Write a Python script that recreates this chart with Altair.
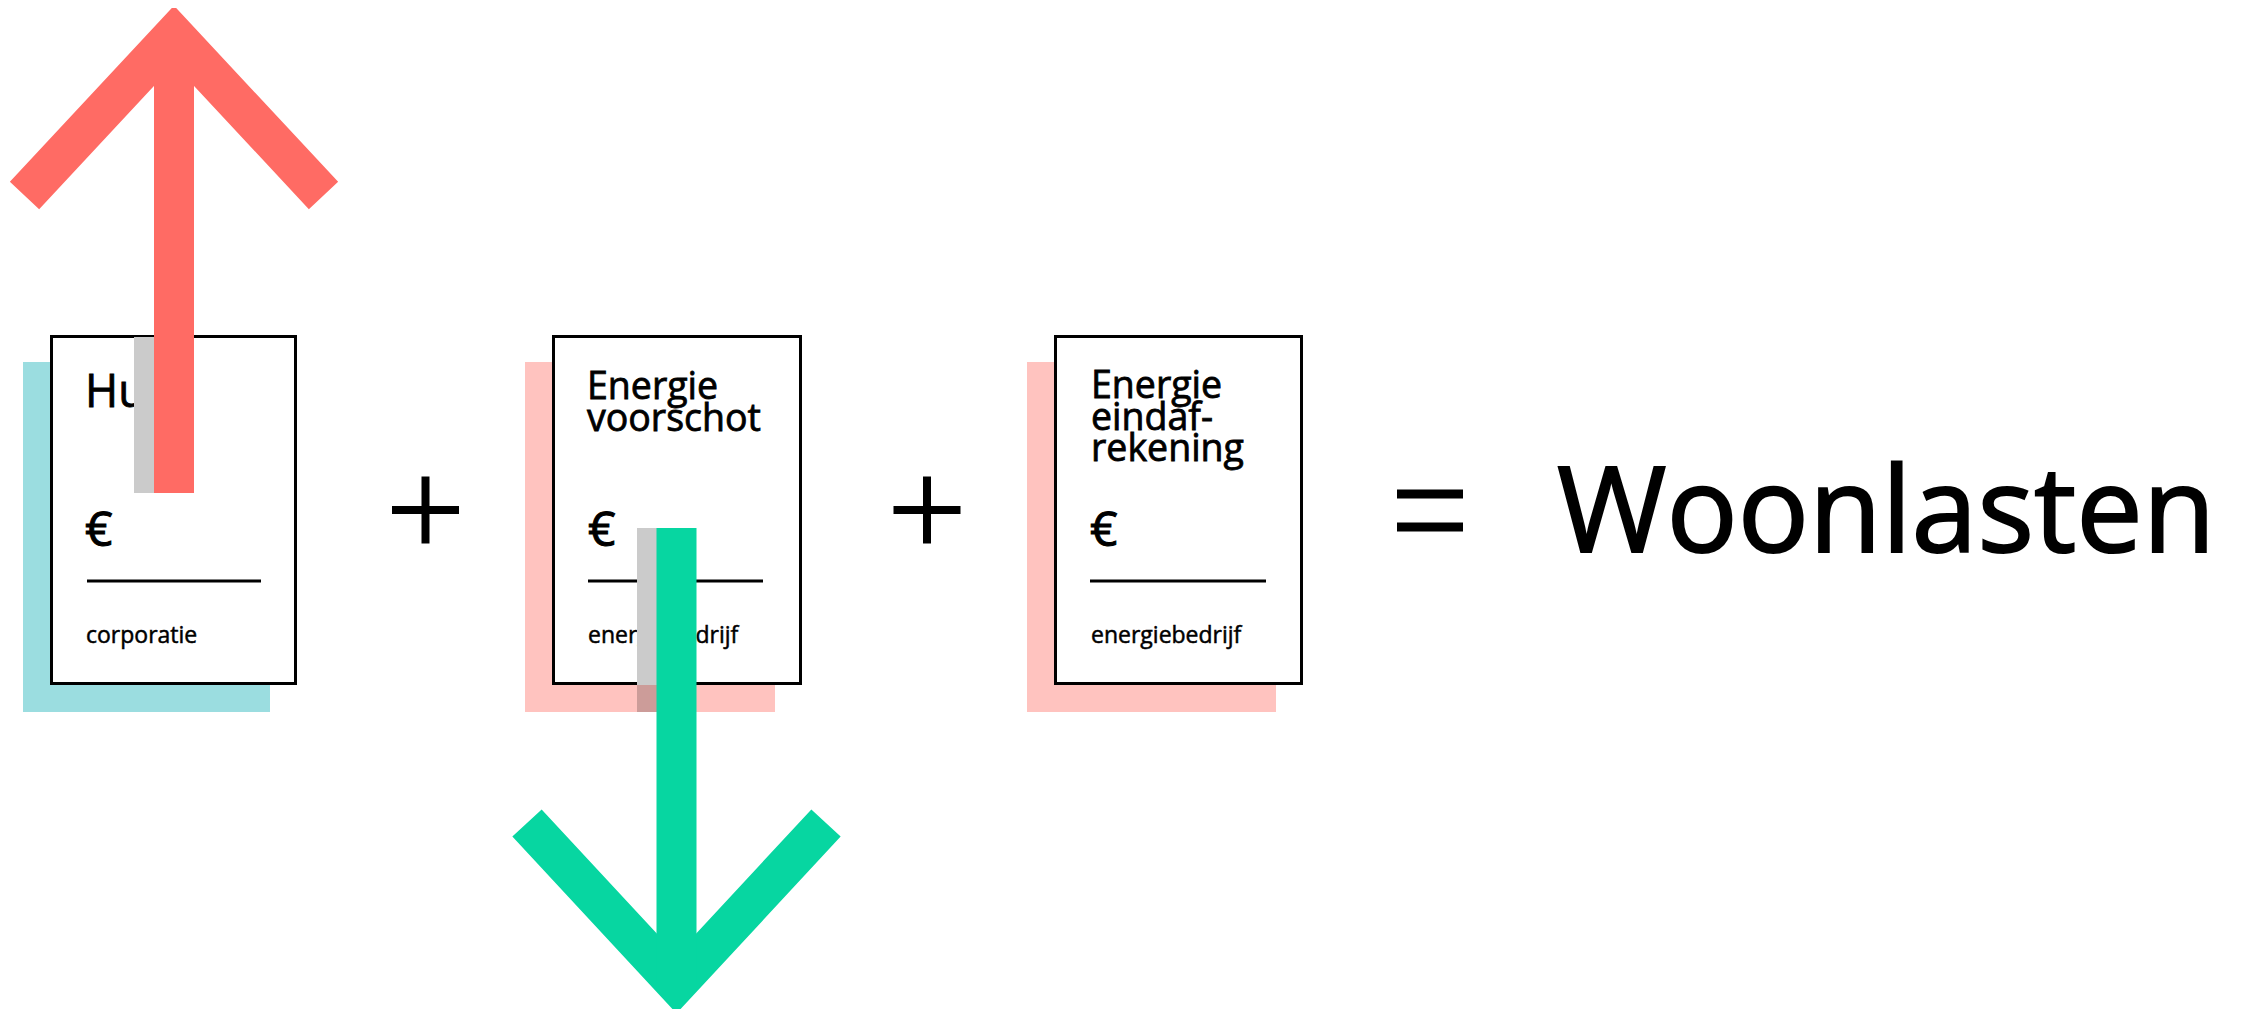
import altair as alt
import pandas as pd

# ---------------- data (reference pixel coordinates) ----------------
card_names = ["Huur", "Energie voorschot", "Energie eindafrekening"]
card_left = [50, 552, 1054]
card_right = [297, 802, 1303]
card_top = [335, 335, 335]
card_bottom = [685, 685, 685]
shadow_colors = ["#9BDDE0", "#FFC3BF", "#FFC3BF"]
shadow_dx = [-27, -27, -27]
shadow_dy = [27, 27, 27]

title_texts = ["Huur", "Energie\nvoorschot", "Energie\neindaf-\nrekening"]
title_baseline = [407, 399, 398]
title_size = [45, 37.5, 37.5]
title_x = [85, 587, 1091]
euro_x = [85, 588, 1090]
euro_y = [546, 546, 546]
issuer_labels = ["corporatie", "energiebedrijf", "energiebedrijf"]
issuer_x = [86, 588, 1091]
issuer_y = [643, 643, 643]
rule_x1 = [87, 588, 1090]
rule_x2 = [261, 763, 1266]
rule_y = [581, 581, 581]

# arrows: chevron points and shaft
arrow_names = ["up", "down"]
arrow_colors = ["#FF6B64", "#07D6A1"]
chev_x = [[24.5, 174, 323.5], [527, 676.5, 826]]
chev_y = [[195.5, 35, 195.5], [823, 984, 823]]
shaft_x = [174, 676.5]
shaft_y1 = [35, 528]
shaft_y2 = [493, 984]
# shadow strips of the shafts
strip_x1 = [134, 637, 637]
strip_x2 = [154, 657, 657]
strip_y1 = [337, 528, 685]
strip_y2 = [493, 685, 712]
strip_color = ["#CBCBCB", "#CBCBCB", "#CC9C99"]

# operators
plus_cx = [425.5, 927]
plus_cy = [510, 510]
plus_half = 33.5
eq_x1, eq_x2 = 1397, 1463
eq_y = [494, 527]
result_text = "Woonlasten"
result_x, result_y = 1557, 552

# ---------------- build tables ----------------
shadows = pd.DataFrame({
    "x": [l + d for l, d in zip(card_left, shadow_dx)],
    "x2": [r + d for r, d in zip(card_right, shadow_dx)],
    "y": [t + d for t, d in zip(card_top, shadow_dy)],
    "y2": [b + d for b, d in zip(card_bottom, shadow_dy)],
    "c": shadow_colors,
})
cards = pd.DataFrame({"x": [v + 1.5 for v in card_left], "x2": [v - 1.5 for v in card_right],
                      "y": [v + 1.5 for v in card_top], "y2": [v - 1.5 for v in card_bottom],
                      "name": card_names})
titles = pd.DataFrame({"x": title_x, "y": title_baseline, "t": title_texts, "s": title_size})
euros = pd.DataFrame({"x": euro_x, "y": euro_y, "t": ["€"] * 3})
issuers = pd.DataFrame({"x": issuer_x, "y": issuer_y, "t": issuer_labels})
rules = pd.DataFrame({"x": rule_x1, "x2": rule_x2, "y": rule_y})
strips = pd.DataFrame({"x": strip_x1, "x2": strip_x2, "y": strip_y1, "y2": strip_y2, "c": strip_color})

arrow_rows = []
for a, (name, col) in enumerate(zip(arrow_names, arrow_colors)):
    for k, (xx, yy) in enumerate(zip(chev_x[a], chev_y[a])):
        arrow_rows.append({"part": name + "-head", "x": xx, "y": yy, "o": k, "c": col})
    arrow_rows.append({"part": name + "-shaft", "x": shaft_x[a], "y": shaft_y1[a], "o": 0, "c": col})
    arrow_rows.append({"part": name + "-shaft", "x": shaft_x[a], "y": shaft_y2[a], "o": 1, "c": col})
arrows = pd.DataFrame(arrow_rows)

op_h = pd.DataFrame({"x": [c - plus_half for c in plus_cx] + [eq_x1] * 2,
                     "x2": [c + plus_half for c in plus_cx] + [eq_x2] * 2,
                     "y": plus_cy + eq_y,
                     "w": [8, 8, 9, 9]})
op_v = pd.DataFrame({"x": plus_cx, "y": [c - plus_half for c in plus_cy],
                     "y2": [c + plus_half for c in plus_cy]})
result = pd.DataFrame({"x": [result_x], "y": [result_y], "t": [result_text]})

# ---------------- scales ----------------
W, H = 2230, 1001
xs = alt.Scale(domain=[8, 8 + W], nice=False, zero=False)
ys = alt.Scale(domain=[8, 8 + H], reverse=True, nice=False, zero=False)
X = lambda f="x": alt.X(f"{f}:Q", scale=xs, axis=None)
Y = lambda f="y": alt.Y(f"{f}:Q", scale=ys, axis=None)
FONT = "Open Sans"

l_shadow = alt.Chart(shadows).mark_rect().encode(
    x=X(), x2="x2", y=Y(), y2="y2", color=alt.Color("c:N", scale=None))
l_cards = alt.Chart(cards).mark_rect(fill="white", stroke="black", strokeWidth=3).encode(
    x=X(), x2="x2", y=Y(), y2="y2")
l_rules = alt.Chart(rules).mark_rule(color="black", strokeWidth=3).encode(x=X(), x2="x2", y=Y())
l_titles = alt.Chart(titles).mark_text(font=FONT, align="left", baseline="alphabetic",
                                       fill="black", stroke="black", strokeWidth=0.8,
                                       lineBreak="\n", lineHeight=31.5).encode(
    x=X(), y=Y(), text="t:N", size=alt.Size("s:Q", scale=None))
l_euro = alt.Chart(euros).mark_text(font=FONT, fontSize=48, align="left", baseline="alphabetic",
                                    fill="black", stroke="black", strokeWidth=1).encode(
    x=X(), y=Y(), text="t:N")
l_issuer = alt.Chart(issuers).mark_text(font=FONT, fontSize=23, align="left", baseline="alphabetic",
                                        fill="black", stroke="black", strokeWidth=0.5).encode(
    x=X(), y=Y(), text="t:N")
l_strips = alt.Chart(strips).mark_rect().encode(
    x=X(), x2="x2", y=Y(), y2="y2", color=alt.Color("c:N", scale=None))
l_arrows = alt.Chart(arrows).mark_line(strokeWidth=40, strokeJoin="miter", strokeCap="butt",
                                       strokeMiterLimit=10).encode(
    x=X(), y=Y(), detail="part:N", order=alt.Order("o:Q"), color=alt.Color("c:N", scale=None))
l_oph = alt.Chart(op_h).mark_rule(color="black", strokeCap="butt").encode(
    x=X(), x2="x2", y=Y(), strokeWidth=alt.StrokeWidth("w:Q", scale=None))
l_opv = alt.Chart(op_v).mark_rule(color="black", strokeWidth=8, strokeCap="butt").encode(
    x=X(), y=Y(), y2="y2")
l_result = alt.Chart(result).mark_text(font=FONT, fontSize=118.5, align="left", baseline="alphabetic",
                                       fill="black", stroke="black", strokeWidth=2).encode(
    x=X(), y=Y(), text="t:N")

chart = alt.layer(
    l_shadow, l_cards, l_rules, l_titles, l_euro, l_issuer,
    l_strips, l_arrows, l_oph, l_opv, l_result
).properties(
    width=W, height=H, padding=0, autosize=alt.AutoSizeParams(type="none"),
    background="white"
).configure_view(strokeWidth=0)

chart.save("out.html", embed_options={"renderer": "svg", "actions": False})
